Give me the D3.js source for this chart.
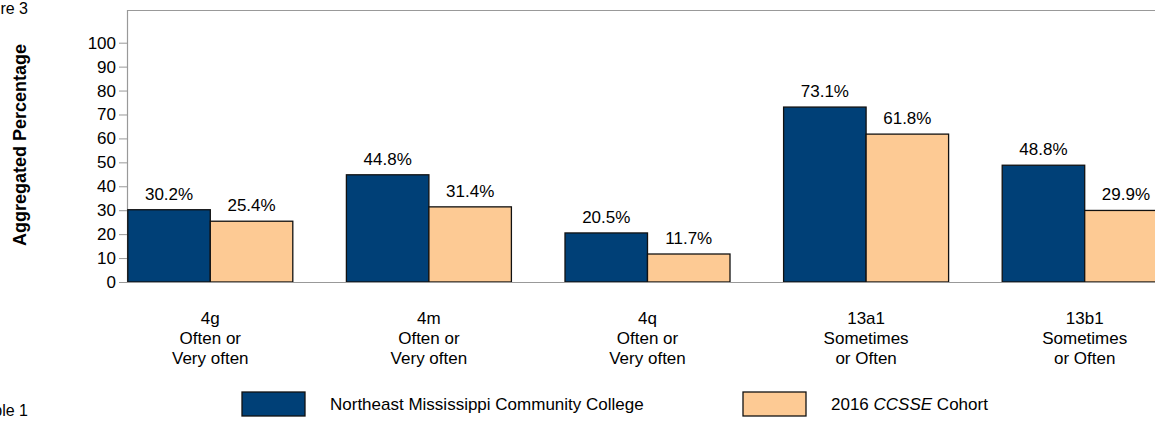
<!DOCTYPE html>
<html>
<head>
<meta charset="utf-8">
<script src="https://cdn.jsdelivr.net/npm/d3@7"></script>
<style>
  body { margin: 0; background: #fff; }
  svg { display: block; font-family: "Liberation Sans", Arial, sans-serif; }
</style>
</head>
<body>
<svg id="chart"></svg>
<script>
// chart data
const categories = ["4g", "4m", "4q", "13a1", "13b1"];
const categoryNotes = [
    ["Often or", "Very often"],
    ["Often or", "Very often"],
    ["Often or", "Very often"],
    ["Sometimes", "or Often"],
    ["Sometimes", "or Often"]
];
const collegeValues = [30.2, 44.8, 20.5, 73.1, 48.8];
const cohortValues = [25.4, 31.4, 11.7, 61.8, 29.9];
const seriesNames = ["Northeast Mississippi Community College", "2016 CCSSE Cohort"];
const yTicks = [0, 10, 20, 30, 40, 50, 60, 70, 80, 90, 100];

const width = 1155, height = 422;
const colors = ["#004077", "#fdca94"];
const fs = 17;

const svg = d3.select("#chart")
    .attr("width", width)
    .attr("height", height);

const plotLeft = 127, plotTop = 10, plotBottom = 282, plotRight = 1155;

const y = d3.scaleLinear()
    .domain([0, 100])
    .range([plotBottom, 42.7]);

const x0 = d3.scaleBand()
    .domain(categories)
    .range([101, 1194])
    .padding(0);

const x1 = d3.scaleBand()
    .domain(seriesNames)
    .range([-82.5, 82.5]);

const rows = categories.map((c, i) => ({
    cat: c,
    vals: [
        { name: seriesNames[0], value: collegeValues[i], color: colors[0] },
        { name: seriesNames[1], value: cohortValues[i], color: colors[1] }
    ]
}));

// frame lines
svg.append("line")
    .attr("x1", plotLeft).attr("x2", plotRight)
    .attr("y1", plotTop + 0.5).attr("y2", plotTop + 0.5)
    .attr("stroke", "#999").attr("stroke-width", 1.2);
svg.append("line")
    .attr("x1", plotLeft + 0.5).attr("x2", plotLeft + 0.5)
    .attr("y1", plotTop).attr("y2", plotBottom)
    .attr("stroke", "#999").attr("stroke-width", 1.2);

// y axis
const yAxis = svg.append("g")
    .attr("transform", `translate(${plotLeft},0)`)
    .call(d3.axisLeft(y).tickValues(yTicks).tickSize(8).tickPadding(3));
yAxis.select(".domain").remove();
yAxis.selectAll(".tick line").attr("stroke", "#999");
yAxis.selectAll(".tick text")
    .attr("font-size", fs)
    .attr("font-family", "Liberation Sans, Arial, sans-serif")
    .attr("fill", "#000");

// bars
const groups = svg.append("g").selectAll("g")
    .data(rows).enter()
    .append("g")
    .attr("transform", d => `translate(${x0(d.cat) + x0.bandwidth() / 2},0)`);

groups.selectAll("rect")
    .data(d => d.vals).enter()
    .append("rect")
    .attr("x", d => x1(d.name))
    .attr("width", x1.bandwidth())
    .attr("y", d => y(d.value))
    .attr("height", d => y(0) - y(d.value))
    .attr("fill", d => d.color)
    .attr("stroke", "#111")
    .attr("stroke-width", 1.3);

groups.selectAll("text.val")
    .data(d => d.vals).enter()
    .append("text")
    .attr("class", "val")
    .attr("x", d => x1(d.name) + x1.bandwidth() / 2)
    .attr("y", d => y(d.value) - 10)
    .attr("text-anchor", "middle")
    .attr("font-size", fs)
    .text(d => d.value.toFixed(1) + "%");

// baseline
svg.append("line")
    .attr("x1", 119).attr("x2", plotRight)
    .attr("y1", plotBottom + 0.5).attr("y2", plotBottom + 0.5)
    .attr("stroke", "#999").attr("stroke-width", 1.2);

// category labels
groups.append("text")
    .attr("text-anchor", "middle")
    .attr("font-size", fs)
    .each(function(d, i) {
        const t = d3.select(this);
        const lines = [d.cat].concat(categoryNotes[i]);
        lines.forEach((l, j) => {
            t.append("tspan").attr("x", 0).attr("y", 324 + j * 20).text(l);
        });
    });

// y title
svg.append("text")
    .attr("transform", "translate(26,145) rotate(-90)")
    .attr("text-anchor", "middle")
    .attr("font-size", 18)
    .attr("font-weight", "bold")
    .text("Aggregated Percentage");

// cropped captions at left edge
svg.append("text")
    .attr("x", 28).attr("y", 14)
    .attr("text-anchor", "end")
    .attr("font-size", 16)
    .text("Figure 3");
svg.append("text")
    .attr("x", 28).attr("y", 416)
    .attr("text-anchor", "end")
    .attr("font-size", 16)
    .text("Table 1");

// legend
const legendX = [242, 743];
const legend = svg.append("g").selectAll("g")
    .data(seriesNames).enter()
    .append("g")
    .attr("transform", (d, i) => `translate(${legendX[i]},392)`);

legend.append("rect")
    .attr("width", 63).attr("height", 24)
    .attr("fill", (d, i) => colors[i])
    .attr("stroke", "#111").attr("stroke-width", 1.3);

legend.append("text")
    .attr("x", 88).attr("y", 18)
    .attr("font-size", fs)
    .each(function(d, i) {
        const t = d3.select(this);
        if (i === 1) {
            t.append("tspan").text("2016 ");
            t.append("tspan").attr("font-style", "italic").text("CCSSE");
            t.append("tspan").text(" Cohort");
        } else {
            t.text(d);
        }
    });
</script>
</body>
</html>
